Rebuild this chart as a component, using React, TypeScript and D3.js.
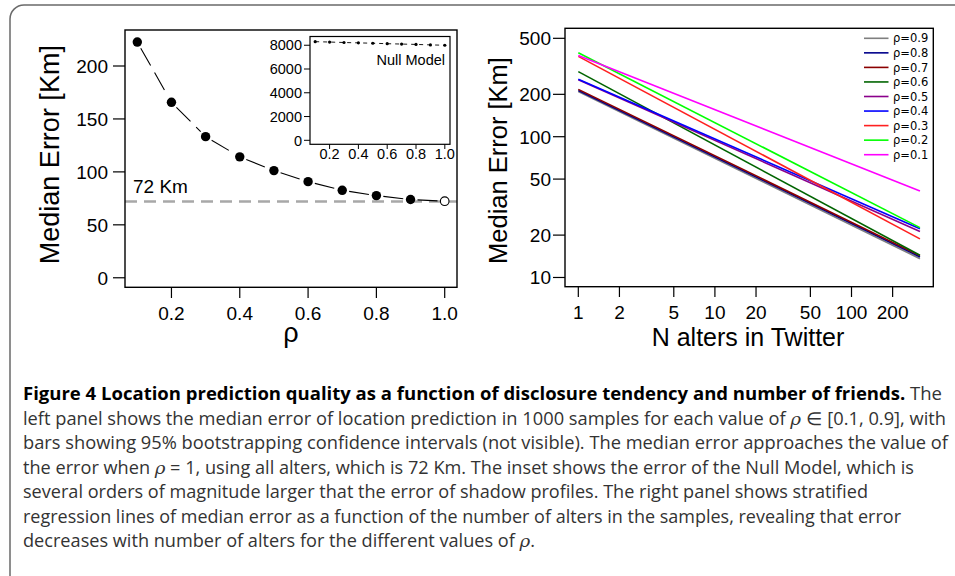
import React from 'react';
import * as d3 from 'd3';

// ---------- data ----------
const rhoValues = [0.1, 0.2, 0.3, 0.4, 0.5, 0.6, 0.7, 0.8, 0.9, 1.0];
const medianError = [222.6, 165.7, 133.3, 114.2, 101.2, 90.8, 82.6, 77.6, 73.9, 72.3];
const nullModelError = [8300, 8270, 8230, 8200, 8170, 8130, 8100, 8070, 8030, 8000];
const allAltersError = 72;
const leftYTicks = [0, 50, 100, 150, 200];
const leftXTicks = [0.2, 0.4, 0.6, 0.8, 1.0];
const insetYTicks = [0, 2000, 4000, 6000, 8000];
const insetXTicks = [0.2, 0.4, 0.6, 0.8, 1.0];

const seriesLabels = ['ρ=0.9', 'ρ=0.8', 'ρ=0.7', 'ρ=0.6', 'ρ=0.5', 'ρ=0.4', 'ρ=0.3', 'ρ=0.2', 'ρ=0.1'];
const nAltersRange = [1, 317];
const errorAtFirst = [209, 213, 217, 290, 254, 256, 372, 395, 378];
const errorAtLast = [13.6, 14.0, 14.3, 14.4, 21.2, 22.2, 18.8, 22.6, 41.2];
const rightYTicks = [10, 20, 50, 100, 200, 500];
const rightXTicks = [1, 2, 5, 10, 20, 50, 100, 200];

const seriesColors = ['#7f7f7f', '#00008b', '#8b0000', '#006400', '#8b008b', '#0000ff', '#ff2020', '#00ff00', '#ff00ff'];

const captionLines: { t: string; i?: boolean; b?: boolean }[][] = [
  [{ t: 'Figure 4  Location prediction quality as a function of disclosure tendency and number of friends.', b: true }, { t: ' The' }],
  [{ t: 'left panel shows the median error of location prediction in 1000 samples for each value of ' }, { t: 'ρ', i: true }, { t: ' ∈ [0.1, 0.9], with' }],
  [{ t: 'bars showing 95% bootstrapping confidence intervals (not visible). The median error approaches the value of' }],
  [{ t: 'the error when ' }, { t: 'ρ', i: true }, { t: ' = 1, using all alters, which is 72 Km. The inset shows the error of the Null Model, which is' }],
  [{ t: 'several orders of magnitude larger that the error of shadow profiles. The right panel shows stratified' }],
  [{ t: 'regression lines of median error as a function of the number of alters in the samples, revealing that error' }],
  [{ t: 'decreases with number of alters for the different values of ' }, { t: 'ρ', i: true }, { t: '.' }],
];
const captionEnds = [942, 946, 948, 914, 868, 901, 535];

const FONT = '"Liberation Sans", Arial, Helvetica, sans-serif';

export default function App() {
  // left panel
  const xL = d3.scaleLinear().domain([0.064, 1.036]).range([125, 457]);
  const yL = d3.scaleLinear().domain([-9, 234]).range([287.3, 30]);
  // inset
  const xI = d3.scaleLinear().domain([0.064, 1.036]).range([310, 450]);
  const yI = d3.scaleLinear().domain([-336, 8736]).range([144.3, 36.5]);
  // right panel
  const xR = d3.scaleLog().domain([0.799, 397]).range([565, 933.3]);
  const yR = d3.scaleLog().domain([8.6, 589]).range([286.7, 28.3]);

  const pts = rhoValues.map((r, i) => [xL(r), yL(medianError[i])]);
  const gap = 7;
  const segs: number[][] = [];
  for (let i = 0; i < pts.length - 1; i++) {
    const [x1, y1] = pts[i];
    const [x2, y2] = pts[i + 1];
    const dx = x2 - x1, dy = y2 - y1;
    const L = Math.hypot(dx, dy);
    if (L <= 2 * gap) continue;
    segs.push([x1 + (dx * gap) / L, y1 + (dy * gap) / L, x2 - (dx * gap) / L, y2 - (dy * gap) / L]);
  }
  const insetLine = d3.line<number>().x((_, i) => xI(rhoValues[i])).y((d) => yI(d))(nullModelError) || '';

  const lineR = d3.line<number[]>().x((d) => xR(d[0])).y((d) => yR(d[1]));

  return (
    <svg width={955} height={576} style={{ position: 'absolute', left: 0, top: 0, background: '#fff' }}>
      <rect x={0} y={0} width={955} height={576} fill="#fff" />
      <rect x={10} y={5} width={1000} height={585} rx={14} fill="none" stroke="#6a6a6a" strokeWidth={1.5} />

      {/* ---------- LEFT PANEL ---------- */}
      <g fontFamily={FONT} fill="#000">
        <line x1={125} x2={457} y1={yL(allAltersError)} y2={yL(allAltersError)} stroke="#a8a8a8" strokeWidth={2.5} strokeDasharray="12 7" />
        {segs.map((s, i) => (
          <line key={i} x1={s[0]} y1={s[1]} x2={s[2]} y2={s[3]} stroke="#000" strokeWidth={1.1} strokeDasharray="20 8" />
        ))}
        {pts.map((p, i) =>
          i < pts.length - 1 ? (
            <circle key={i} cx={p[0]} cy={p[1]} r={4.7} fill="#000" />
          ) : (
            <circle key={i} cx={p[0]} cy={p[1]} r={4.3} fill="#fff" stroke="#000" strokeWidth={1.1} />
          )
        )}
        <text x={133} y={192.5} fontSize={19}>72 Km</text>
        <rect x={125} y={30} width={332} height={257.3} fill="none" stroke="#000" strokeWidth={1.4} />
        {leftYTicks.map((t) => (
          <g key={t}>
            <line x1={113} x2={125} y1={yL(t)} y2={yL(t)} stroke="#000" strokeWidth={1.2} />
            <text x={108} y={yL(t)} dy="0.36em" textAnchor="end" fontSize={19}>{t}</text>
          </g>
        ))}
        {leftXTicks.map((t) => (
          <g key={t}>
            <line x1={xL(t)} x2={xL(t)} y1={287.3} y2={298} stroke="#000" strokeWidth={1.2} />
            <text x={xL(t)} y={320} textAnchor="middle" fontSize={19}>{t.toFixed(1)}</text>
          </g>
        ))}
        <text x={291} y={342} textAnchor="middle" fontSize={27}>ρ</text>
        <text transform={`translate(59,${(30 + 287.3) / 2 - 4}) rotate(-90)`} textAnchor="middle" fontSize={27}>Median Error [Km]</text>

        {/* inset */}
        <rect x={310} y={36.5} width={140} height={107.8} fill="#fff" stroke="#000" strokeWidth={1.2} />
        <path d={insetLine} fill="none" stroke="#000" strokeWidth={0.9} strokeDasharray="4 4" />
        {nullModelError.map((v, i) => (
          <circle key={i} cx={xI(rhoValues[i])} cy={yI(v)} r={1.6} fill="#000" />
        ))}
        <text x={445} y={65} textAnchor="end" fontSize={14.5}>Null Model</text>
        {insetYTicks.map((t) => (
          <g key={t}>
            <line x1={304} x2={310} y1={yI(t)} y2={yI(t)} stroke="#000" strokeWidth={1} />
            <text x={302} y={yI(t)} dy="0.36em" textAnchor="end" fontSize={14.5}>{t}</text>
          </g>
        ))}
        {insetXTicks.map((t) => (
          <g key={t}>
            <line x1={xI(t)} x2={xI(t)} y1={144.3} y2={149} stroke="#000" strokeWidth={1} />
            <text x={xI(t)} y={158.5} textAnchor="middle" fontSize={14.5}>{t.toFixed(1)}</text>
          </g>
        ))}
      </g>

      {/* ---------- RIGHT PANEL ---------- */}
      <g fontFamily={FONT} fill="#000">
        {seriesLabels.map((lab, i) => (
          <path
            key={lab}
            d={lineR([[nAltersRange[0], errorAtFirst[i]], [nAltersRange[1], errorAtLast[i]]]) || ''}
            fill="none"
            stroke={seriesColors[i]}
            strokeWidth={1.6}
          />
        ))}
        <rect x={565} y={28.3} width={368.3} height={258.4} fill="none" stroke="#000" strokeWidth={1.4} />
        {rightYTicks.map((t) => (
          <g key={t}>
            <line x1={553} x2={565} y1={yR(t)} y2={yR(t)} stroke="#000" strokeWidth={1.2} />
            <text x={551} y={yR(t)} dy="0.36em" textAnchor="end" fontSize={19}>{t}</text>
          </g>
        ))}
        {rightXTicks.map((t) => (
          <g key={t}>
            <line x1={xR(t)} x2={xR(t)} y1={286.7} y2={297} stroke="#000" strokeWidth={1.2} />
            <text x={xR(t)} y={318.5} textAnchor="middle" fontSize={19}>{t}</text>
          </g>
        ))}
        <text x={748} y={346} textAnchor="middle" fontSize={25}>N alters in Twitter</text>
        <text transform={`translate(507,${(28.3 + 286.7) / 2 + 3}) rotate(-90)`} textAnchor="middle" fontSize={25.5}>Median Error [Km]</text>

        {/* legend */}
        {seriesLabels.map((lab, i) => {
          const y = 38.3 + i * 14.55;
          return (
            <g key={lab}>
              <line x1={864} x2={888.5} y1={y} y2={y} stroke={seriesColors[i]} strokeWidth={1.6} />
              <text x={893} y={y} dy="0.36em" fontSize={11.5} fontFamily='"DejaVu Sans", sans-serif'>{lab}</text>
            </g>
          );
        })}
      </g>

      {/* ---------- CAPTION ---------- */}
      <g fontFamily='"Open Sans", "Noto Sans", sans-serif' fontSize={17.5} fill="#231f20">
        {captionLines.map((parts, li) => (
          <text
            key={li}
            x={23}
            y={400 + li * 24.5}
            textLength={captionEnds[li] - 23}
            lengthAdjust="spacingAndGlyphs"
          >
            {parts.map((p, k) => (
              <tspan
                key={k}
                fontWeight={p.b ? 700 : 400}
                fontStyle={p.i ? 'italic' : 'normal'}
                fontFamily={p.i ? '"DejaVu Serif", serif' : undefined}
                fill={p.b ? '#000' : '#333'}
              >
                {p.t}
              </tspan>
            ))}
          </text>
        ))}
      </g>
    </svg>
  );
}
